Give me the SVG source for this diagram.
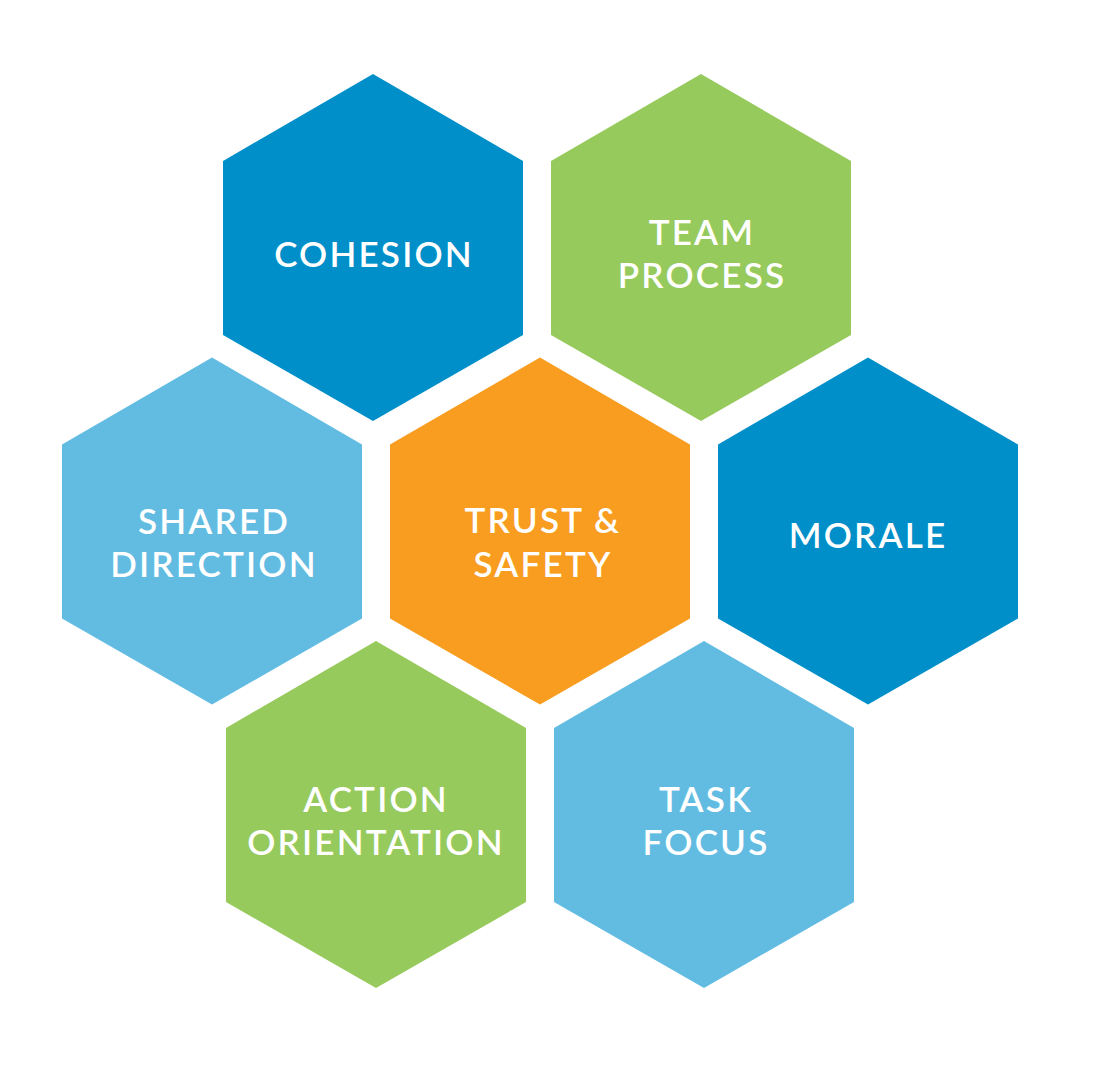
<svg xmlns="http://www.w3.org/2000/svg" width="1095" height="1072" viewBox="0 0 1095 1072">
<style>
.lbl{font-family:Lato,"Open Sans",sans-serif;font-size:35px;fill:#fff;text-anchor:middle;letter-spacing:2.2px;font-weight:600}
.dark{fill:#008FC9}.green{fill:#97CA5D}.light{fill:#62BCE2}.orange{fill:#F89D1F}
</style>
<defs>
<polygon id="hex" points="0,-347 150,-260 150,-86 0,0 -150,-86 -150,-260" transform="translate(0,173.5)"/>
</defs>
<rect width="1095" height="1072" fill="#fff"/>
<g id="cohesion"><use href="#hex" class="dark" x="373" y="247.5"/><text class="lbl" x="374" y="267">COHESION</text></g>
<g id="team-process"><use href="#hex" class="green" x="701" y="247.5"/><text class="lbl" x="702" y="245">TEAM</text><text class="lbl" x="702" y="288">PROCESS</text></g>
<g id="shared-direction"><use href="#hex" class="light" x="212" y="531"/><text class="lbl" x="214" y="534">SHARED</text><text class="lbl" x="214" y="577">DIRECTION</text></g>
<g id="trust-safety"><use href="#hex" class="orange" x="540" y="531"/><text class="lbl" x="543" y="533">TRUST &amp;</text><text class="lbl" x="543" y="577">SAFETY</text></g>
<g id="morale"><use href="#hex" class="dark" x="868" y="531"/><text class="lbl" x="868" y="548">MORALE</text></g>
<g id="action-orientation"><use href="#hex" class="green" x="376" y="814.5"/><text class="lbl" x="376" y="812">ACTION</text><text class="lbl" x="376" y="855">ORIENTATION</text></g>
<g id="task-focus"><use href="#hex" class="light" x="704" y="814.5"/><text class="lbl" x="706" y="812">TASK</text><text class="lbl" x="706" y="855">FOCUS</text></g>
<g id="connectors"/>
</svg>
